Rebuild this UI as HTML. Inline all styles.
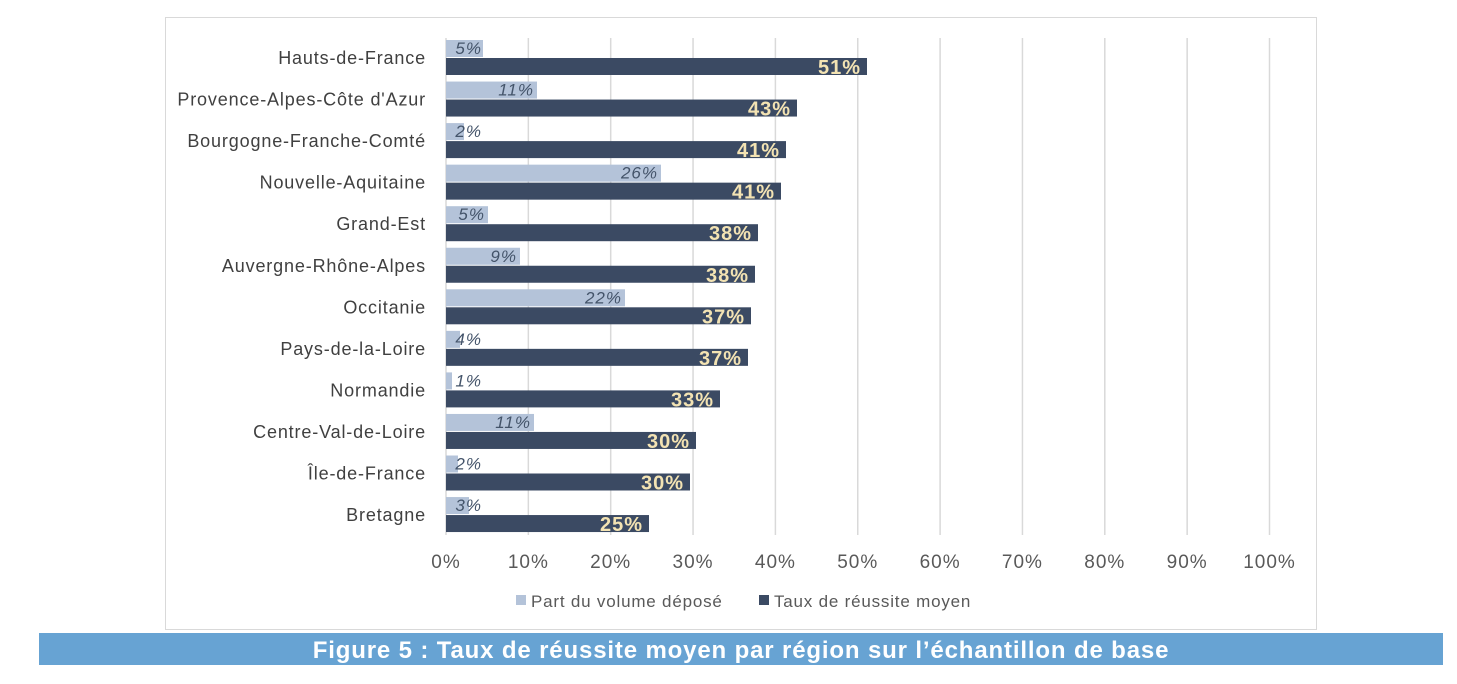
<!DOCTYPE html>
<html><head><meta charset="utf-8"><style>
body{margin:0;background:#fff;width:1457px;height:679px;overflow:hidden;font-family:"Liberation Sans",sans-serif}
</style></head><body>
<svg width="1457" height="679" xmlns="http://www.w3.org/2000/svg" font-family="Liberation Sans, sans-serif">
<rect x="165.5" y="17.5" width="1151" height="612" fill="#fff" stroke="#d9d9d9"/>
<rect x="39" y="633" width="1404" height="32" fill="#67a3d3"/>
<text x="741" y="658" text-anchor="middle" fill="#fff" font-size="24" font-weight="bold" letter-spacing="0.85">Figure 5 : Taux de réussite moyen par région sur l’échantillon de base</text>
<rect x="516" y="595" width="10" height="10" fill="#b4c3d9"/>
<text x="531" y="607" font-size="17" fill="#595959" letter-spacing="0.8">Part du volume déposé</text>
<rect x="759" y="595" width="10" height="10" fill="#3b4a63"/>
<text x="774" y="607" font-size="17" fill="#595959" letter-spacing="0.8">Taux de réussite moyen</text>
</svg>
<script>
const ns="http://www.w3.org/2000/svg",svg=document.querySelector('svg');
function el(t,a,txt){const e=document.createElementNS(ns,t);for(const k in a)e.setAttribute(k,a[k]);if(txt)e.textContent=txt;svg.appendChild(e);return e;}
const x0=446,s=8.235;
for(let i=0;i<=10;i++){const x=x0+i*10*s;el('line',{x1:x,x2:x,y1:38,y2:535,stroke:'#d9d9d9','stroke-width':1.5});
el('text',{x:x,y:568,'text-anchor':'middle','font-size':19,'letter-spacing':1,fill:'#595959'},i*10+'%');}
const d=[["Hauts-de-France",483,"5%",867,"51%"],["Provence-Alpes-Côte d'Azur",537,"11%",797,"43%"],["Bourgogne-Franche-Comté",464,"2%",786,"41%"],["Nouvelle-Aquitaine",661,"26%",781,"41%"],["Grand-Est",488,"5%",758,"38%"],["Auvergne-Rhône-Alpes",520,"9%",755,"38%"],["Occitanie",625,"22%",751,"37%"],["Pays-de-la-Loire",460,"4%",748,"37%"],["Normandie",452,"1%",720,"33%"],["Centre-Val-de-Loire",534,"11%",696,"30%"],["Île-de-France",458,"2%",690,"30%"],["Bretagne",469,"3%",649,"25%"]];
d.forEach((r,i)=>{const y=40+i*41.55;
el('rect',{x:x0,y:y,width:r[1]-x0,height:17,fill:'#b4c3d9'});
el('rect',{x:x0,y:y+18,width:r[3]-x0,height:17,fill:'#3b4a63'});
el('text',{x:Math.max(r[1]-3,482),y:y+14,'text-anchor':'end','font-size':17,'letter-spacing':1,'font-style':'italic',fill:'#44546a'},r[2]);
el('text',{x:r[3]-6,y:y+34,'text-anchor':'end','font-size':20,'letter-spacing':1,'font-weight':'bold',fill:'#f3e3b3'},r[4]);
el('text',{x:426,y:y+24,'text-anchor':'end','font-size':18,'letter-spacing':0.85,fill:'#404040'},r[0]);
});
</script>
</body></html>
